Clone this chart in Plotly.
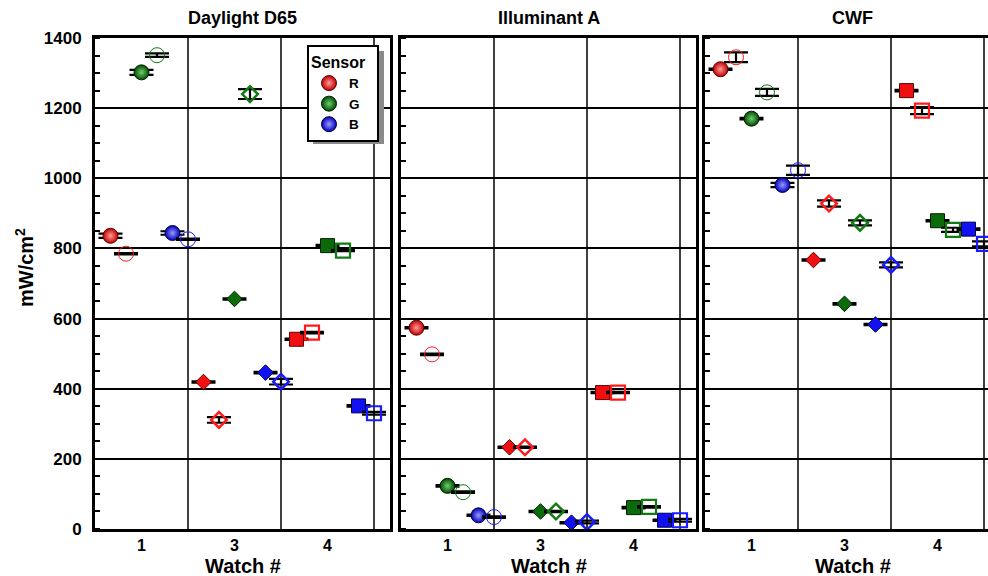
import plotly.graph_objects as go

# ---------------- data ----------------
watches = ["1", "3", "4"]
sensors = ["R", "G", "B"]
panels = ["Daylight D65", "Illuminant A", "CWF"]

# Daylight D65 (filled = first measurement, open = second measurement)
d65_R_filled = [836, 419, 541]
d65_R_open = [785, 311, 560]
d65_G_filled = [1302, 656, 808]
d65_G_open = [1351, 1240, 794]
d65_B_filled = [844, 446, 351]
d65_B_open = [826, 420, 330]
d65_R_filled_err = [6, 2, 2]
d65_R_open_err = [2, 8, 2]
d65_G_filled_err = [7, 2, 2]
d65_G_open_err = [5, 14, 2]
d65_B_filled_err = [5, 2, 2]
d65_B_open_err = [2, 8, 4]

# Illuminant A
a_R_filled = [574, 233, 389]
a_R_open = [498, 233, 389]
a_G_filled = [123, 50, 61]
a_G_open = [105, 50, 63]
a_B_filled = [39, 18, 25]
a_B_open = [34, 20, 25]
a_R_filled_err = [2, 2, 2]
a_R_open_err = [2, 2, 2]
a_G_filled_err = [2, 2, 2]
a_G_open_err = [2, 2, 2]
a_B_filled_err = [2, 2, 2]
a_B_open_err = [2, 4, 4]

# CWF
cwf_R_filled = [1311, 767, 1250]
cwf_R_open = [1345, 928, 1193]
cwf_G_filled = [1170, 642, 879]
cwf_G_open = [1245, 873, 853]
cwf_B_filled = [981, 583, 855]
cwf_B_open = [1023, 753, 813]
cwf_R_filled_err = [2, 2, 2]
cwf_R_open_err = [14, 9, 10]
cwf_G_filled_err = [2, 2, 2]
cwf_G_open_err = [10, 7, 6]
cwf_B_filled_err = [6, 2, 2]
cwf_B_open_err = [13, 7, 7]

y_ticks = [0, 200, 400, 600, 800, 1000, 1200, 1400]

panel_data = [
    {"R": (d65_R_filled, d65_R_open, d65_R_filled_err, d65_R_open_err),
     "G": (d65_G_filled, d65_G_open, d65_G_filled_err, d65_G_open_err),
     "B": (d65_B_filled, d65_B_open, d65_B_filled_err, d65_B_open_err)},
    {"R": (a_R_filled, a_R_open, a_R_filled_err, a_R_open_err),
     "G": (a_G_filled, a_G_open, a_G_filled_err, a_G_open_err),
     "B": (a_B_filled, a_B_open, a_B_filled_err, a_B_open_err)},
    {"R": (cwf_R_filled, cwf_R_open, cwf_R_filled_err, cwf_R_open_err),
     "G": (cwf_G_filled, cwf_G_open, cwf_G_filled_err, cwf_G_open_err),
     "B": (cwf_B_filled, cwf_B_open, cwf_B_filled_err, cwf_B_open_err)},
]

# ---------------- style ----------------
FONT = "Liberation Sans, Arial, sans-serif"
base_col = {"R": "#f01010", "G": "#0b6b0b", "B": "#1010f0"}
sphere_edge = {"R": "#c00000", "G": "#004a00", "B": "#0000b8"}
sphere_center = {"R": "#ff9a9a", "G": "#6fcf6f", "B": "#9a9aff"}
dark_col = {"R": "#600000", "G": "#002000", "B": "#000050"}
open_col = {"R": "#ff1a1a", "G": "#127a12", "B": "#1a1aff"}

W_PX, H_PX = 988, 576
ML, MT, MB = 95, 38, 47
PAPER_W = W_PX - ML
PAPER_H = H_PX - MT - MB
panel_px = [(95, 390), (401, 696), (705, 988)]
UNIT = 93.0  # px per watch slot


def px_x(px):
    return (px - ML) / PAPER_W


def px_y(py):
    return (H_PX - MB - py) / PAPER_H


fig = go.Figure()

n_w = len(watches)
for p, pdat in enumerate(panel_data):
    xa = "x" if p == 0 else f"x{p + 1}"
    ya = "y" if p == 0 else f"y{p + 1}"
    for s, sen in enumerate(sensors):
        filled, opened, f_err, o_err = pdat[sen]
        for kind in (0, 1):
            xs = [w + (2 * s + kind + 1) / 6 for w in range(n_w)]
            if kind == 0:
                ys, errs = filled, f_err
                marker = dict(
                    symbol=["circle", "diamond", "square"],
                    size=[15, 12, 14],
                    opacity=1,
                    color=[sphere_edge[sen], base_col[sen], base_col[sen]],
                    gradient=dict(type=["radial", "none", "none"],
                                  color=[sphere_center[sen], base_col[sen], base_col[sen]]),
                    line=dict(color=dark_col[sen], width=1),
                )
            else:
                ys, errs = opened, o_err
                marker = dict(
                    symbol=["circle-open", "diamond-open", "square-open"],
                    size=[15, 12, 14],
                    opacity=1,
                    color=open_col[sen],
                    line=dict(color=open_col[sen], width=[1, 2.5, 2.2]),
                )
            fig.add_trace(go.Scatter(
                x=xs, y=ys, mode="markers", xaxis=xa, yaxis=ya,
                marker=marker,
                error_y=dict(type="data", array=errs, color="black",
                             thickness=2.2, width=12),
                showlegend=False, hoverinfo="skip",
            ))

# legend entries
for sen in sensors:
    fig.add_trace(go.Scatter(
        x=[None], y=[None], mode="markers", name=sen,
        marker=dict(symbol="circle", size=15, opacity=1, color=sphere_edge[sen],
                    gradient=dict(type="radial", color=sphere_center[sen]),
                    line=dict(color=dark_col[sen], width=1)),
        showlegend=True,
    ))

layout = dict(
    width=W_PX, height=H_PX,
    margin=dict(l=ML, r=0, t=MT, b=MB, pad=0),
    paper_bgcolor="white", plot_bgcolor="white",
    font=dict(family=FONT, color="black"),
    showlegend=True,
    legend=dict(
        x=px_x(307), y=px_y(45), xanchor="left", yanchor="top",
        bgcolor="white", bordercolor="black", borderwidth=2,
        title=dict(text="<b>Sensor</b>&nbsp;&nbsp;", font=dict(size=16, family=FONT)),
        font=dict(size=13.5, family=FONT, weight="bold"),
        itemsizing="trace", tracegroupgap=0,
    ),
)

shapes = []
annotations = []
for p in range(3):
    x0px, x1px = panel_px[p]
    xk = "xaxis" if p == 0 else f"xaxis{p + 1}"
    yk = "yaxis" if p == 0 else f"yaxis{p + 1}"
    xref = "x" if p == 0 else f"x{p + 1}"
    yref = "y" if p == 0 else f"y{p + 1}"
    layout[xk] = dict(
        domain=[px_x(x0px), px_x(x1px)],
        range=[0, (x1px - x0px) / UNIT],
        anchor=yref,
        tickmode="array",
        tickvals=[w + 0.5 for w in range(n_w)],
        ticktext=watches,
        ticks="", showgrid=False, zeroline=False,
        showline=True, linecolor="black", linewidth=3, mirror=True,
        tickfont=dict(size=16, family=FONT, weight="bold"),
        ticklabelstandoff=0,
    )
    layout[yk] = dict(
        domain=[0, 1],
        range=[0, 1400],
        anchor=xref,
        tickmode="array", tickvals=y_ticks,
        ticks="", showgrid=True, gridcolor="black", gridwidth=1.5,
        zeroline=False,
        showline=True, linecolor="black", linewidth=3,
        mirror=(p < 2),
        showticklabels=(p == 0),
        tickfont=dict(size=17, family=FONT, weight="bold"),
        ticklabelstandoff=7,
        minor=dict(dtick=50, tick0=0, ticks="inside", ticklen=5,
                   tickwidth=1.5, tickcolor="black", showgrid=False),
    )
    if p > 0:
        layout[yk]["matches"] = "y"
    # vertical grid lines at watch-slot boundaries
    for w in range(1, n_w + 1):
        shapes.append(dict(type="line", xref=xref, yref=f"{yref} domain",
                           x0=w, x1=w, y0=0, y1=1, layer="below",
                           line=dict(color="black", width=1.5)))
    cx = px_x((x0px + x0px + 295) / 2)
    annotations.append(dict(text=f"<b>{panels[p]}</b>", x=cx, y=px_y(18),
                            xref="paper", yref="paper", showarrow=False,
                            xanchor="center", yanchor="middle",
                            font=dict(size=18, family=FONT)))
    annotations.append(dict(text="<b>Watch #</b>", x=cx, y=px_y(566),
                            xref="paper", yref="paper", showarrow=False,
                            xanchor="center", yanchor="middle",
                            font=dict(size=20, family=FONT)))

annotations.append(dict(text="<b>mW/cm<sup>2</sup></b>", x=px_x(24), y=px_y(268),
                        xref="paper", yref="paper", showarrow=False,
                        textangle=-90, xanchor="center", yanchor="middle",
                        font=dict(size=20, family=FONT)))

# legend drop shadow
shapes.append(dict(type="rect", xref="paper", yref="paper",
                   x0=px_x(313), x1=px_x(384), y0=px_y(144), y1=px_y(51),
                   fillcolor="#8a8a8a", line=dict(width=0), layer="above"))

layout["shapes"] = shapes
layout["annotations"] = annotations
fig.update_layout(**layout)

fig.write_html("out.html",
               config={"displayModeBar": False},
               post_script="document.body.style.margin='0px';document.body.style.padding='0px';")
